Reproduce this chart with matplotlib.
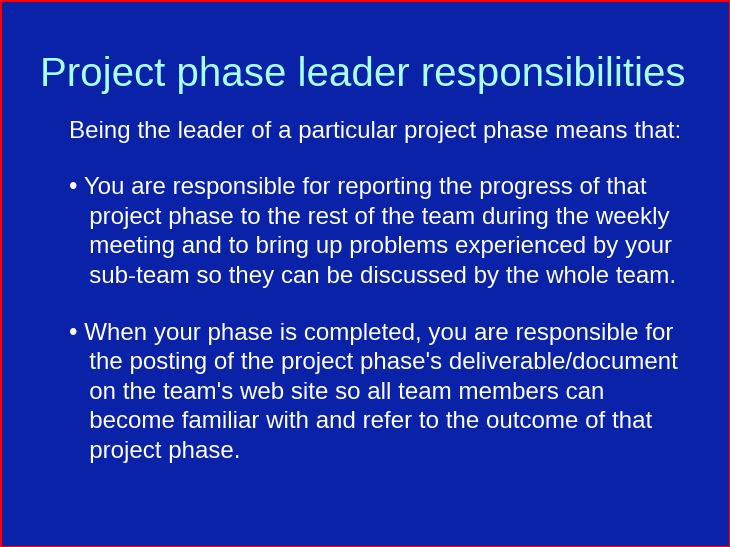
import matplotlib
matplotlib.use("Agg")
import matplotlib.pyplot as plt
from matplotlib.patches import Rectangle

title = "Project phase leader responsibilities"
intro = "Being the leader of a particular project phase means that:"
bullet1 = ["• You are responsible for reporting the progress of that",
           "   project phase to the rest of the team during the weekly",
           "   meeting and to bring up problems experienced by your",
           "   sub-team so they can be discussed by the whole team."]
bullet2 = ["• When your phase is completed, you are responsible for",
           "   the posting of the project phase's deliverable/document",
           "   on the team's web site so all team members can",
           "   become familiar with and refer to the outcome of that",
           "   project phase."]

W, H = 730, 547
fig = plt.figure(figsize=(7.3, 5.47), dpi=100)
fig.patch.set_facecolor("#0a22a8")
ax = fig.add_axes([0, 0, 1, 1])
ax.set_xlim(0, W); ax.set_ylim(H, 0); ax.axis("off")
ax.add_patch(Rectangle((0.5, 0.5), W - 1, H - 1, fill=False, edgecolor="#ff0000", lw=1.5))
fam = ["Liberation Sans", "DejaVu Sans"]
ax.text(40, 75, title, color="#a8ffff", fontsize=29, family=fam, va="center")
ax.text(69, 132, intro, color="white", fontsize=17.4, family=fam, va="center")
for i, t in enumerate(bullet1):
    ax.text(69, 188 + 29.7 * i, t, color="white", fontsize=17.4, family=fam, va="center")
for i, t in enumerate(bullet2):
    ax.text(69, 334 + 29.5 * i, t, color="white", fontsize=17.4, family=fam, va="center")
fig.savefig("out.png", dpi=100, facecolor=fig.get_facecolor())
